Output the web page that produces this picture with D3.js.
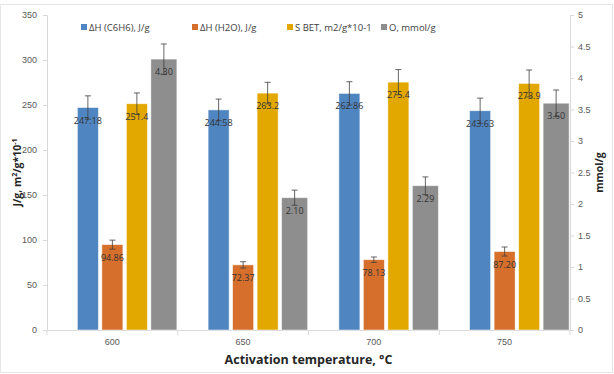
<!DOCTYPE html>
<html>
<head>
<meta charset="utf-8">
<script src="https://cdn.jsdelivr.net/npm/d3@7"></script>
<style>
  body { margin: 0; background: #fff; }
  svg { font-family: "Open Sans", "Liberation Sans", sans-serif; }
</style>
</head>
<body>
<div id="chart"></div>
<script>
const categories = ["600", "650", "700", "750"];
const seriesNames = ["ΔH (C6H6), J/g", "ΔH (H2O), J/g", "S BET, m2/g*10-1", "O, mmol/g"];
const dhBenzene = [247.18, 244.58, 262.86, 243.63];
const dhBenzeneErr = [13, 12, 13, 14];
const dhWater = [94.86, 72.37, 78.13, 87.20];
const dhWaterErr = [5, 3.5, 3, 5];
const sBet = [251.4, 263.2, 275.4, 273.9];
const sBetErr = [12, 12, 14, 15];
const oxygen = [4.30, 2.10, 2.29, 3.60];
const oxygenErr = [0.24, 0.12, 0.14, 0.21];
const leftTicks = [0, 50, 100, 150, 200, 250, 300, 350];
const rightTicks = [0, 0.5, 1, 1.5, 2, 2.5, 3, 3.5, 4, 4.5, 5];

const colors = ["#4f86c1", "#d56f2b", "#e2a800", "#8e8e8e"];
const labelFmt = [d => d.toFixed(2), d => d.toFixed(2), d => String(d), d => d.toFixed(2)];

const width = 614, height = 374;
const margin = { top: 15, right: 44, bottom: 44, left: 47 };

const svg = d3.select("#chart").append("svg")
    .attr("width", width)
    .attr("height", height);

// chart area border
svg.append("rect")
    .attr("x", 0.5).attr("y", 4.5)
    .attr("width", width - 2).attr("height", height - 6)
    .attr("fill", "none")
    .attr("stroke", "#e6e6e6");

const x = d3.scaleBand()
    .domain(categories)
    .range([margin.left, width - margin.right]);

const yLeft = d3.scaleLinear()
    .domain([0, 350])
    .range([height - margin.bottom, margin.top]);

const yRight = d3.scaleLinear()
    .domain([0, 5])
    .range([height - margin.bottom, margin.top]);

// + AXES
const xAxis = d3.axisBottom(x).tickSize(0).tickPadding(9);
const gx = svg.append("g")
    .attr("transform", `translate(0,${yLeft(0)})`)
    .call(xAxis);
gx.select(".domain").attr("stroke", "#d9d9d9");
gx.selectAll("text").attr("fill", "#595959").style("font-size", "9px");
// ticks between categories
gx.selectAll("line.between")
    .data(d3.range(categories.length + 1))
    .join("line")
    .attr("class", "between")
    .attr("x1", i => margin.left + i * x.step())
    .attr("x2", i => margin.left + i * x.step())
    .attr("y1", 0).attr("y2", 5)
    .attr("stroke", "#d9d9d9");

const gyl = svg.append("g")
    .attr("transform", `translate(${margin.left},0)`)
    .call(d3.axisLeft(yLeft).tickValues(leftTicks).tickSize(4).tickPadding(6));
gyl.selectAll(".domain, line").attr("stroke", "#d9d9d9");
gyl.selectAll("text").attr("fill", "#595959").style("font-size", "9px");

const gyr = svg.append("g")
    .attr("transform", `translate(${width - margin.right},0)`)
    .call(d3.axisRight(yRight).tickValues(rightTicks).tickSize(4).tickPadding(4).tickFormat(d3.format("")));
gyr.selectAll(".domain, line").attr("stroke", "#d9d9d9");
gyr.selectAll("text").attr("fill", "#595959").style("font-size", "9px");

// bars
const barW = 21, gap = 3.5, grayW = 26;
const primary = [
    { vals: dhBenzene, err: dhBenzeneErr },
    { vals: dhWater, err: dhWaterErr },
    { vals: sBet, err: sBetErr }
];
const groupW = barW * 3 + gap * 2;

const bars = [];
categories.forEach((c, i) => {
    const cx = x(c) + x.bandwidth() / 2;
    primary.forEach((s, k) => {
        bars.push({
            x0: cx - groupW / 2 + k * (barW + gap), w: barW,
            v: s.vals[i], e: s.err[i], scale: yLeft, k
        });
    });
    bars.push({
        x0: cx + groupW / 2 + gap, w: grayW,
        v: oxygen[i], e: oxygenErr[i], scale: yRight, k: 3
    });
});

svg.append("g").selectAll("rect")
    .data(bars)
    .join("rect")
    .attr("x", d => d.x0)
    .attr("y", d => d.scale(d.v))
    .attr("width", d => d.w)
    .attr("height", d => d.scale(0) - d.scale(d.v))
    .attr("fill", d => colors[d.k])
    .attr("stroke", "#ffffff")
    .attr("stroke-opacity", 0.6)
    .attr("stroke-width", 0.8);

// error bars
const eb = svg.append("g").attr("stroke", "#404040").attr("stroke-width", 0.8);
bars.forEach(d => {
    const cx = d.x0 + d.w / 2;
    const t = d.scale(d.v + d.e), b = d.scale(d.v - d.e);
    eb.append("line").attr("x1", cx).attr("x2", cx).attr("y1", t).attr("y2", b);
    eb.append("line").attr("x1", cx - 3).attr("x2", cx + 3).attr("y1", t).attr("y2", t);
    eb.append("line").attr("x1", cx - 3).attr("x2", cx + 3).attr("y1", b).attr("y2", b);
});

// value labels
svg.append("g").selectAll("text")
    .data(bars)
    .join("text")
    .attr("x", d => d.x0 + d.w / 2)
    .attr("y", d => d.scale(d.v) + 16)
    .attr("text-anchor", "middle")
    .attr("fill", "#333")
    .style("font-size", "9px")
    .text(d => labelFmt[d.k](d.v));

// legend
const legendX = [81, 192, 287, 381];
const lg = svg.append("g");
seriesNames.forEach((n, i) => {
    lg.append("rect")
        .attr("x", legendX[i]).attr("y", 24)
        .attr("width", 6).attr("height", 6)
        .attr("fill", colors[i]);
    lg.append("text")
        .attr("x", legendX[i] + 8).attr("y", 31)
        .attr("fill", "#404040")
        .style("font-size", "9.5px")
        .text(n);
});

// axis titles
svg.append("text")
    .attr("x", (margin.left + width - margin.right) / 2)
    .attr("y", 364)
    .attr("text-anchor", "middle")
    .attr("fill", "#262626")
    .style("font-size", "12.5px")
    .style("font-weight", "bold")
    .text("Activation temperature, °C");

const yt = svg.append("text")
    .attr("transform", `translate(21,${(margin.top + height - margin.bottom) / 2}) rotate(-90)`)
    .attr("text-anchor", "middle")
    .attr("fill", "#262626")
    .style("font-size", "10.5px")
    .style("font-weight", "bold");
yt.append("tspan").text("J/g, m");
yt.append("tspan").attr("dy", -4).style("font-size", "7px").text("2");
yt.append("tspan").attr("dy", 4).text("/g*10");
yt.append("tspan").attr("dy", -4).style("font-size", "7px").text("-1");

svg.append("text")
    .attr("transform", `translate(603,${(margin.top + height - margin.bottom) / 2}) rotate(-90)`)
    .attr("text-anchor", "middle")
    .attr("fill", "#262626")
    .style("font-size", "10.5px")
    .style("font-weight", "bold")
    .text("mmol/g");
</script>
</body>
</html>
